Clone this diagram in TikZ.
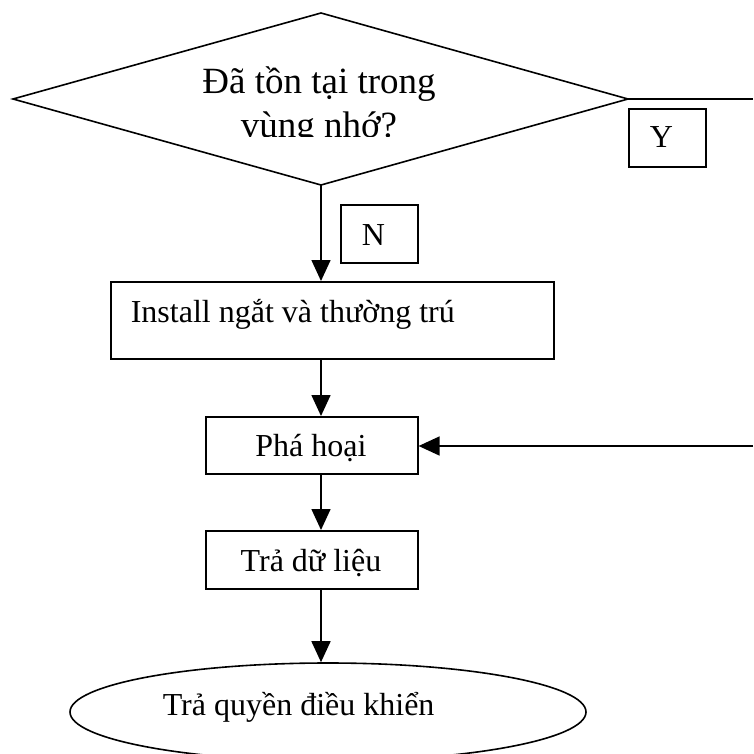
\documentclass[tikz,border=0pt]{standalone}
\usepackage{fontspec}
\setmainfont{Liberation Serif}
\usetikzlibrary{arrows.meta,shapes.geometric,calc}
\begin{document}
\begin{tikzpicture}[x=1pt,y=-1pt,
  line width=1.6pt,
  box/.style={draw, rectangle, inner sep=0pt, anchor=north west},
  lbl/.style={anchor=base west, inner sep=0pt, font=\fontsize{32}{38}\selectfont},
  clbl/.style={lbl, anchor=base},
  qlbl/.style={anchor=base, inner sep=0pt, font=\fontsize{37}{45}\selectfont},
  flow/.style={-{Triangle[length=21pt,width=19pt]}},
]
\useasboundingbox (0,0) rectangle (753,754);

% decision diamond
\coordinate (dt) at (321,13);
\coordinate (dr) at (628,99);
\coordinate (db) at (321,185);
\coordinate (dl) at (13,99);
\draw[line join=miter] (dt) -- (dr) -- (db) -- (dl) -- cycle;
\begin{scope}
  \clip (0,0) rectangle (753,137);
  \node[qlbl] (q1) at (319,94) {Đã tồn tại trong};
  \node[qlbl] (q2) at (319,138) {vùng nhớ?};
\end{scope}

% branch labels
\node[box, minimum width=77pt, minimum height=58pt] (ybox) at (628,108) {};
\node[lbl] (ytxt) at (649,148) {Y};
\node[box, minimum width=77pt, minimum height=58pt] (nbox) at (340,204) {};
\node[lbl] (ntxt) at (361,245) {N};

% process steps
\node[box, minimum width=443pt, minimum height=77pt] (inst) at (110,281) {};
\node[lbl] (insttxt) at (130,322) {Install ngắt và thường trú};

\node[box, minimum width=212pt, minimum height=57pt] (pha) at (205,416) {};
\node[clbl] (phatxt) at (311,456) {Phá hoại};

\node[box, minimum width=212pt, minimum height=58pt] (tra) at (205,530) {};
\node[clbl] (tratxt) at (311,571) {Trả dữ liệu};

\node[draw, ellipse, inner sep=0pt, minimum width=516pt, minimum height=98pt] (end) at (328,712) {};
\node[lbl] (endtxt) at (162,715) {Trả quyền điều khiển};

% connectors
\coordinate (yout) at (753,99);
\coordinate (back) at (753,446);
\draw (dr) -- (yout);
\draw[flow] (db) -- (db |- inst.north);
\draw[flow] (db |- inst.south) -- (db |- pha.north);
\draw[flow] (db |- pha.south) -- (db |- tra.north);
\draw[flow] (db |- tra.south) -- (db |- end.north);
\draw[flow] (back) -- (back -| pha.east);
\end{tikzpicture}
\end{document}
